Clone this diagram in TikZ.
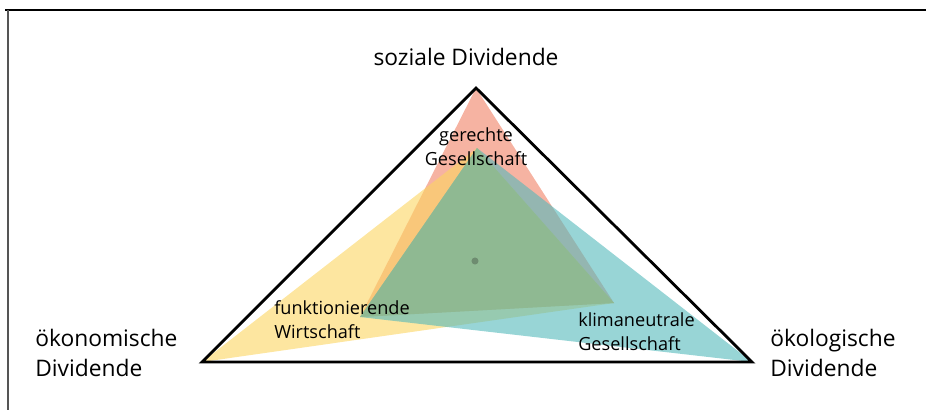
\documentclass[tikz,border=0pt]{standalone}
\usepackage{fontspec}
\setmainfont{Open Sans}
\usepackage{xcolor}
\usepackage{tikz}
\definecolor{ink}{HTML}{000000}
\definecolor{framegray}{HTML}{555555}
\definecolor{social}{RGB}{240,128,100}
\definecolor{econ}{RGB}{252,213,97}
\definecolor{eco}{RGB}{83,185,187}
\definecolor{balance}{RGB}{143,185,146}
\definecolor{dotgray}{RGB}{110,140,112}
\tikzset{
  outer/.style={draw=ink, line width=2pt, line join=miter},
  area/.style={fill opacity=0.6},
  frameline/.style={line width=0.8pt},
  dot/.style={circle, fill=dotgray, inner sep=0pt, minimum size=5pt},
  corner/.style={font=\fontsize{16.2}{21.5}\selectfont, align=left, inner sep=0pt},
  goal/.style={font=\fontsize{12.9}{17}\selectfont, align=left, inner sep=0pt},
}

\begin{document}
\begin{tikzpicture}[x=0.025cm, y=-0.025cm]
  \useasboundingbox (0,0) rectangle (928,410);

  % frame
  \draw[frameline, draw=ink] (5,10) -- (926,10);
  \draw[frameline, draw=framegray] (8,10) -- (8,410);

  % corners of the outer triangle
  \coordinate (S) at (476,88);
  \coordinate (E) at (202,362);
  \coordinate (O) at (752,362);

  % inner points
  \coordinate (s) at (477,148);
  \coordinate (e) at (360,317);
  \coordinate (o) at (614,303);

  % scenarios
  \fill[area, social] (S) -- (e) -- (o) -- cycle;
  \fill[area, econ]   (E) -- (s) -- (o) -- cycle;
  \fill[area, eco]    (O) -- (s) -- (e) -- cycle;
  \fill[balance]      (s) -- (e) -- (o) -- cycle;

  \draw[outer] (S) -- (E) -- (O) -- cycle;
  \node[dot] (mid) at (475,261) {};

  % labels
  \node[corner] (lS) at (466,57) {soziale Dividende};
  \node[corner, anchor=west] (lE) at (35,353) {ökonomische\\Dividende};
  \node[corner, anchor=west] (lO) at (770,353) {ökologische\\Dividende};

  \node[goal, align=center] (gS) at (476,147) {gerechte\\Gesellschaft};
  \node[goal, anchor=west] (gE) at (274,320) {funktionierende\\Wirtschaft};
  \node[goal, anchor=west] (gO) at (578,332) {klimaneutrale\\Gesellschaft};
\end{tikzpicture}
\end{document}
